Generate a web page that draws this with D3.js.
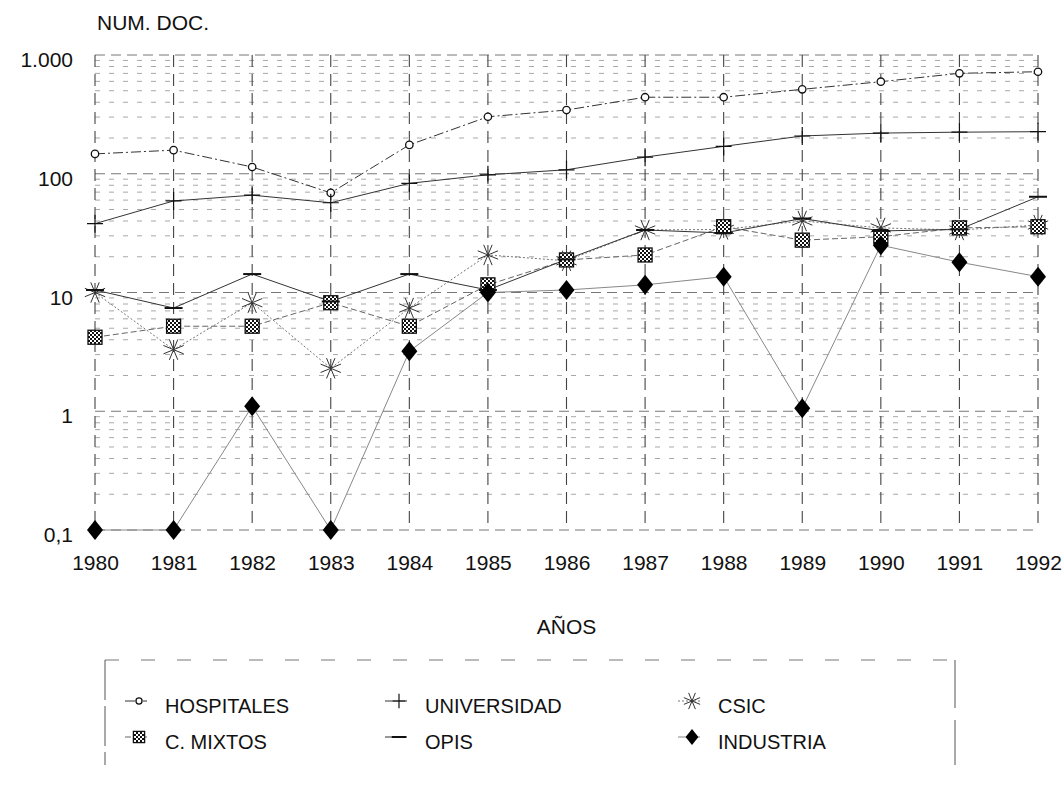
<!DOCTYPE html>
<html><head><meta charset="utf-8">
<script src="https://cdn.jsdelivr.net/npm/d3@7"></script>
<style>
html,body{margin:0;padding:0;background:#fff;}
svg{display:block;font-family:"Liberation Sans",Arial,sans-serif;}
</style></head>
<body>
<svg id="chart" width="1063" height="800"></svg>
<script>
// ---- data ----
const years = [1980,1981,1982,1983,1984,1985,1986,1987,1988,1989,1990,1991,1992];
const hospitales  = [147,158,114,69,175,302,344,441,441,514,596,701,723];
const universidad = [38,59,66,57,83,98,108,138,170,208,220,224,226];
const csic        = [10,3.3,8.2,2.3,7.4,20.7,18.5,33.6,34,40,35,33.6,37];
const cMixtos     = [4.2,5.2,5.2,8.2,5.2,11.6,18.8,20.7,35.8,27.6,29.5,35,35.8];
const opis        = [10.5,7.4,14.3,8.4,14.3,10.5,19,33.6,31.7,42,33,34,64];
const industria   = [0.1,0.1,1.1,0.1,3.2,10,10.5,11.6,13.6,1.06,25,18,13.6];
const yTickValues = [0.1,1,10,100,1000];
const yTickLabels = ["0,1","1","10","100","1.000"];
const seriesNames = ["HOSPITALES","UNIVERSIDAD","CSIC","C. MIXTOS","OPIS","INDUSTRIA"];

const svg = d3.select("#chart");
const x = d3.scaleLinear().domain([1980,1992]).range([95,1038]);
const y = d3.scaleLog().domain([0.1,1000]).range([530,55]);

// pattern for C. MIXTOS
const defs = svg.append("defs");
const pat = defs.append("pattern").attr("id","hatch").attr("width",4).attr("height",4)
  .attr("patternUnits","userSpaceOnUse");
pat.append("rect").attr("width",4).attr("height",4).attr("fill","#fff");
pat.append("rect").attr("width",2).attr("height",2).attr("fill","#111");
pat.append("rect").attr("x",2).attr("y",2).attr("width",2).attr("height",2).attr("fill","#111");

// ---- grid ----
const grid = svg.append("g");
const minor = [];
for (let e=-1; e<3; e++) for (let m=1; m<10; m++) minor.push(m*Math.pow(10,e));
minor.push(1000);
grid.selectAll("line.h").data(minor).join("line")
  .attr("x1",x(1980)).attr("x2",x(1992))
  .attr("y1",d=>y(d)).attr("y2",d=>y(d))
  .attr("stroke",d=>yTickValues.includes(d)?"#777":"#a8a8a8")
  .attr("stroke-width",1)
  .attr("stroke-dasharray",d=>yTickValues.includes(d)?"10,6":"5,9");
grid.selectAll("line.v").data(years).join("line")
  .attr("x1",d=>x(d)).attr("x2",d=>x(d))
  .attr("y1",y(1000)).attr("y2",y(0.1))
  .attr("stroke","#444").attr("stroke-width",1.1)
  .attr("stroke-dasharray","12,7");

// ---- axes ----
const yAxis = d3.axisLeft(y).tickValues(yTickValues)
  .tickFormat((d,i)=>yTickLabels[i]).tickSize(0).tickPadding(22);
const ga = svg.append("g").attr("transform",`translate(${x(1980)},0)`).call(yAxis);
ga.select(".domain").remove();
ga.selectAll("text").attr("font-size",21).attr("fill","#111")
  .attr("font-family","Liberation Sans, Arial, sans-serif").attr("dy","0.55em");

const xAxis = d3.axisBottom(x).tickValues(years).tickFormat(d3.format("d"))
  .tickSize(0).tickPadding(25);
const gx = svg.append("g").attr("transform",`translate(0,${y(0.1)})`).call(xAxis);
gx.select(".domain").remove();
gx.selectAll("text").attr("font-size",21).attr("fill","#111")
  .attr("font-family","Liberation Sans, Arial, sans-serif");

svg.append("text").attr("x",97).attr("y",30).attr("font-size",21).attr("fill","#111")
  .text("NUM. DOC.");
svg.append("text").attr("x",(x(1980)+x(1992))/2).attr("y",634).attr("text-anchor","middle")
  .attr("font-size",21).attr("fill","#111").text("AÑOS");

// ---- lines ----
const line = d3.line().x((d,i)=>x(years[i])).y(d=>y(d));
const styles = [
  {data:hospitales, stroke:"#333", dash:"10,3,2,3", w:1},
  {data:universidad, stroke:"#333", dash:null, w:1},
  {data:csic, stroke:"#777", dash:"2,2", w:1},
  {data:cMixtos, stroke:"#666", dash:"6,3", w:1},
  {data:opis, stroke:"#333", dash:null, w:1},
  {data:industria, stroke:"#888", dash:null, w:1}
];
const gl = svg.append("g");
styles.forEach(s=>{
  gl.append("path").datum(s.data).attr("d",line).attr("fill","none")
    .attr("stroke",s.stroke).attr("stroke-width",s.w)
    .attr("stroke-dasharray",s.dash);
});

// ---- markers ----
function drawMarker(g, type, cx, cy, big){
  const k = big?1:0.8;
  if (type===0){
    g.append("circle").attr("cx",cx).attr("cy",cy).attr("r",3.3*k+0.4)
      .attr("fill","#fff").attr("stroke","#111").attr("stroke-width",1.3);
  } else if (type===1){
    g.append("path").attr("d",`M${cx-8*k},${cy}H${cx+8*k}M${cx},${cy-9*k}V${cy+9*k}`)
      .attr("stroke","#111").attr("stroke-width",1.2).attr("fill","none");
  } else if (type===2){
    let d="";
    for (let a=0;a<8;a++){const t=a*Math.PI/4+Math.PI/8;
      d+=`M${cx},${cy}L${cx+11*k*Math.cos(t)},${cy+11*k*Math.sin(t)}`;}
    g.append("path").attr("d",d).attr("stroke","#333").attr("stroke-width",1).attr("fill","none");
  } else if (type===3){
    g.append("rect").attr("x",cx-7*k).attr("y",cy-7*k).attr("width",14*k).attr("height",14*k)
      .attr("fill","url(#hatch)").attr("stroke","#111").attr("stroke-width",1.3);
  } else if (type===4){
    g.append("path").attr("d",`M${cx-9*k},${cy}H${cx+9*k}`)
      .attr("stroke","#111").attr("stroke-width",2).attr("fill","none");
  } else {
    g.append("path").attr("d",`M${cx},${cy-10*k}L${cx+8*k},${cy}L${cx},${cy+10*k}L${cx-8*k},${cy}Z`)
      .attr("fill","#000");
  }
}
const gm = svg.append("g");
styles.forEach((s,si)=>{
  s.data.forEach((v,i)=>drawMarker(gm, si, x(years[i]), y(v), true));
});

// ---- legend ----
const lg = svg.append("g");
lg.append("line").attr("x1",105).attr("x2",955).attr("y1",660).attr("y2",660)
  .attr("stroke","#777").attr("stroke-dasharray","14,22");
lg.append("line").attr("x1",105).attr("x2",105).attr("y1",660).attr("y2",765)
  .attr("stroke","#555").attr("stroke-dasharray","40,6");
lg.append("line").attr("x1",955).attr("x2",955).attr("y1",660).attr("y2",765)
  .attr("stroke","#555").attr("stroke-dasharray","48,12");
const colX = [165,425,718];
const rowY = [713,749];
seriesNames.forEach((n,i)=>{
  const c=i%3, r=Math.floor(i/3);
  const tx=colX[c], ty=rowY[r];
  lg.append("line").attr("x1",tx-40).attr("x2",tx-18).attr("y1",ty-12).attr("y2",ty-12)
    .attr("stroke",styles[i].stroke).attr("stroke-dasharray",styles[i].dash).attr("stroke-width",1);
  drawMarker(lg, i, tx-26, ty-12, false);
  lg.append("text").attr("x",tx).attr("y",ty).attr("font-size",20).attr("fill","#111").text(n);
});
</script>
</body></html>
